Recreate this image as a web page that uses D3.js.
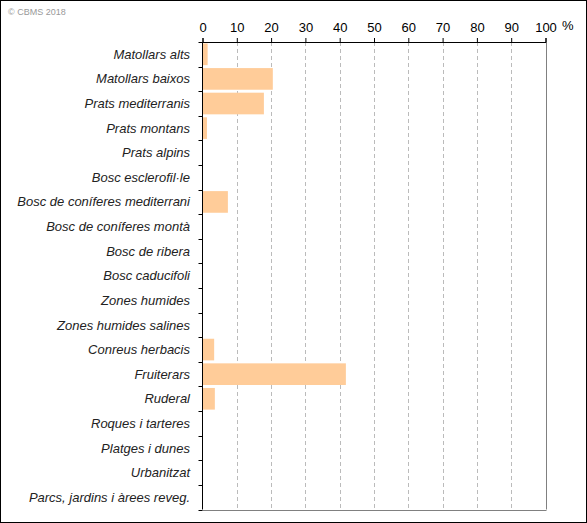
<!DOCTYPE html>
<html>
<head>
<meta charset="utf-8">
<script src="https://cdn.jsdelivr.net/npm/d3@7"></script>
<style>
  body { margin: 0; background: #fff; }
  svg { display: block; }
</style>
</head>
<body>
<div id="chart"></div>
<script>
// habitat categories, top to bottom
var categories = [
    "Matollars alts", "Matollars baixos", "Prats mediterranis", "Prats montans",
    "Prats alpins", "Bosc esclerofil·le", "Bosc de coníferes mediterrani",
    "Bosc de coníferes montà", "Bosc de ribera", "Bosc caducifoli",
    "Zones humides", "Zones humides salines", "Conreus herbacis", "Fruiterars",
    "Ruderal", "Roques i tarteres", "Platges i dunes", "Urbanitzat",
    "Parcs, jardins i àrees reveg."
];
// percentage per category
var values = [1.5, 20.5, 17.9, 1.3, 0, 0, 7.4, 0, 0, 0, 0, 0, 3.4, 41.8, 3.6, 0, 0, 0, 0];
var xTicks = [0, 10, 20, 30, 40, 50, 60, 70, 80, 90, 100];

var width = 587, height = 523;
var plotLeft = 202.5, plotRight = 545.5, plotTop = 42, plotBottom = 509.5;

var svg = d3.select("#chart").append("svg")
    .attr("width", width)
    .attr("height", height)
    .style("font-family", "'Liberation Sans', Arial, sans-serif");

// outer frame
svg.append("rect")
    .attr("x", 0.5).attr("y", 0.5)
    .attr("width", width - 1).attr("height", height - 1)
    .attr("fill", "#fff").attr("stroke", "#000");

svg.append("text")
    .attr("x", 8).attr("y", 15)
    .attr("font-size", 9)
    .attr("fill", "#999")
    .text("© CBMS 2018");

var x = d3.scaleLinear().domain([0, 100]).range([plotLeft, plotRight]);
var y = d3.scaleBand().domain(categories).range([plotTop, plotBottom]).paddingInner(0.12).paddingOuter(0.06);

// dashed grid
svg.selectAll(".grid")
    .data(xTicks.filter(d => d > 0 && d < 100))
    .enter().append("line")
    .attr("x1", d => Math.round(x(d)) + 0.5)
    .attr("x2", d => Math.round(x(d)) + 0.5)
    .attr("y1", plotTop)
    .attr("y2", plotBottom)
    .attr("stroke", "#bbb")
    .attr("stroke-dasharray", "4,3");

// right and bottom frame of plot
svg.append("line")
    .attr("x1", Math.round(x(100)) + 0.5).attr("x2", Math.round(x(100)) + 0.5)
    .attr("y1", plotTop).attr("y2", plotBottom)
    .attr("stroke", "#808080");
svg.append("line")
    .attr("x1", plotLeft).attr("x2", Math.round(x(100)) + 0.5)
    .attr("y1", Math.round(plotBottom) + 0.5).attr("y2", Math.round(plotBottom) + 0.5)
    .attr("stroke", "#808080");

// bars
svg.selectAll(".bar")
    .data(values)
    .enter().append("rect")
    .attr("x", x(0))
    .attr("y", (d, i) => y(categories[i]))
    .attr("width", d => x(d) - x(0))
    .attr("height", y.bandwidth())
    .attr("fill", "#ffcc99");

// top axis
var xAxis = svg.append("g")
    .attr("transform", "translate(0," + plotTop + ")")
    .call(d3.axisTop(x).tickValues(xTicks).tickSize(4).tickPadding(6).tickFormat(d3.format("d")));
xAxis.select(".domain").attr("stroke", "#000");
xAxis.selectAll("text").attr("font-size", 13).attr("fill", "#000").style("font-family", "'Liberation Sans', Arial, sans-serif");

svg.append("text")
    .attr("x", 562).attr("y", 30)
    .attr("font-size", 13)
    .text("%");

// left axis with ticks at band boundaries
var yLine = svg.append("g");
yLine.append("line")
    .attr("x1", plotLeft).attr("x2", plotLeft)
    .attr("y1", plotTop).attr("y2", plotBottom)
    .attr("stroke", "#000");
var step = (plotBottom - plotTop) / categories.length;
yLine.selectAll(".tk")
    .data(d3.range(categories.length + 1))
    .enter().append("line")
    .attr("x1", plotLeft - 4).attr("x2", plotLeft)
    .attr("y1", i => Math.round(plotTop + i * step) + 0.5)
    .attr("y2", i => Math.round(plotTop + i * step) + 0.5)
    .attr("stroke", "#000");

svg.selectAll(".lbl")
    .data(categories)
    .enter().append("text")
    .attr("x", 190)
    .attr("y", (d, i) => plotTop + (i + 0.5) * step)
    .attr("dy", "0.35em")
    .attr("text-anchor", "end")
    .attr("font-size", 13)
    .attr("font-style", "italic")
    .attr("fill", "#222")
    .text(d => d);
</script>
</body>
</html>
